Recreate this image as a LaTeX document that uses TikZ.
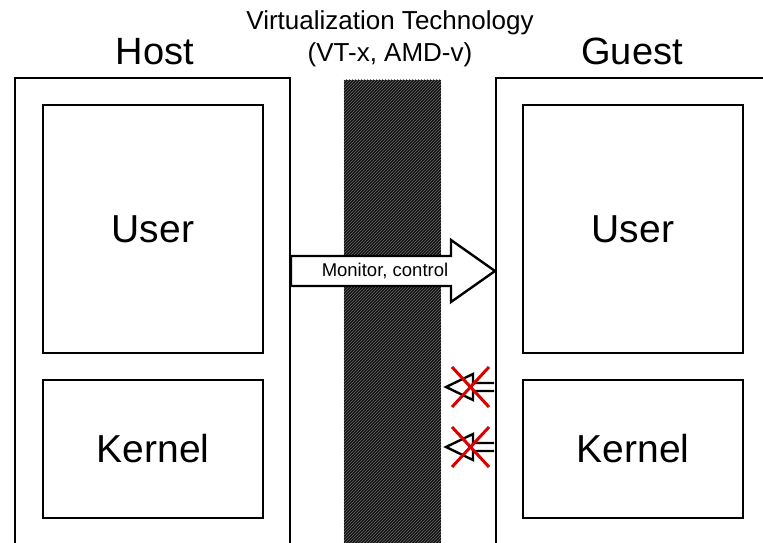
\documentclass[tikz,border=0pt]{standalone}
\usepackage{fontspec}
\setmainfont{Liberation Sans}
\usetikzlibrary{patterns}
\begin{document}
\begin{tikzpicture}[x=1pt,y=-1pt,
  frame/.style={line width=2.8pt,line join=miter},
  box/.style={draw,line width=2.8pt,fill=white,inner sep=0pt,minimum width=220,font=\fontsize{39}{40}\selectfont},
  label/.style={font=\fontsize{38}{40}\selectfont,anchor=base,inner sep=0pt},
  hollow/.style={draw,fill=white,line width=2.4pt,line join=miter},
  cross/.style={draw=red!85!black,line width=3pt}]
\useasboundingbox (0,0) rectangle (763,543);
\begin{scope}
\clip (0,0) rectangle (763,543);
% virtualization bar
\node[fill=black!92,minimum width=97,minimum height=480,anchor=north,inner sep=0pt] (vt) at (392.5,80) {};
\fill[pattern=north east lines,pattern color=black!60] (vt.south west) rectangle (vt.north east);
% outer frames
\coordinate (hostbl) at (15,560);
\coordinate (hostbr) at (290,560);
\coordinate (guestbl) at (496,560);
\coordinate (guestr) at (790,78);
\draw[frame] (hostbl) -- (15,78) -- (290,78) -- (hostbr);
\draw[frame] (guestbl) -- (496,78) -- (guestr);
\end{scope}
% inner boxes
\node[box,minimum height=248] (hu) at (153,229) {User};
\node[box,minimum height=138] (hk) at (153,449) {Kernel};
\node[box,minimum height=248] (gu) at (633,229) {User};
\node[box,minimum height=138] (gk) at (633,449) {Kernel};
% labels
\node[label] (host) at (155,64) {Host};
\node[label] (guest) at (632,64) {Guest};
\node[font=\fontsize{26}{32.5}\selectfont,align=center,inner sep=0pt,anchor=north] (title) at (390,10) {Virtualization Technology\\(VT-x, AMD-v)};
% big arrow
\coordinate (a0) at (291,256);
\draw[hollow] (a0) -- (451,256) -- (451,240) -- (495,271) -- (451,302) -- (451,286) -- (291,286) -- cycle;
\node[font=\fontsize{18.5}{20}\selectfont,inner sep=0pt] (mc) at (385,271) {Monitor, control};
% blocked arrows
\foreach \yy/\nm in {387/b1,447/b2}{
  \coordinate (\nm) at (494,\yy);
  \draw[hollow,line width=2.4pt] (\nm) ++(0,-4) -- (473,\yy-4) -- (473,\yy-13) -- (446,\yy) -- (473,\yy+13) -- (473,\yy+4) -- (494,\yy+4);
  \draw[cross] (452,\yy-20) -- (489,\yy+20);
  \draw[cross] (489,\yy-20) -- (452,\yy+20);
}
\end{tikzpicture}
\end{document}
